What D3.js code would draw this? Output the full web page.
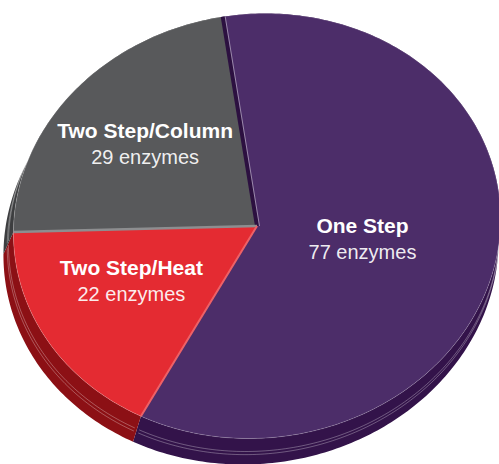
<!DOCTYPE html>
<html>
<head>
<meta charset="utf-8">
<script src="https://cdn.jsdelivr.net/npm/d3@7"></script>
<style>
  html, body { margin: 0; padding: 0; background: #fff; }
  svg { display: block; }
</style>
</head>
<body>
<svg width="499" height="464"></svg>
<script>
"use strict"

const categories = ["One Step", "Two Step/Heat", "Two Step/Column"]
const enzymeCounts = [77, 22, 29]
const countLabels = ["77 enzymes", "22 enzymes", "29 enzymes"]
const topColors = ["#4c2d69", "#e42b32", "#58595b"]
const sideColors = ["#33134a", "#8c1015", "#3d3e40"]

const CX = 257
const CY = 226
const RX = 244
const RY = 212
const TILT = -7 * Math.PI / 180
// bottom rim: pushed down and a bit to the left, slightly wider
const LOW_DX = -6
const LOW_DY = 22
const LOW_GROW_X = 4
const LOW_GROW_Y = 4
const FONT = "'Helvetica Neue', Helvetica, 'Liberation Sans', Arial, sans-serif"

function ellipsePt(t, cx, cy, rx, ry) {
    const x = rx * Math.sin(t)
    const y = -ry * Math.cos(t)
    return [
        cx + x * Math.cos(TILT) - y * Math.sin(TILT),
        cy + x * Math.sin(TILT) + y * Math.cos(TILT)
    ]
}

// f = 0 on the top rim, f = 1 on the bottom rim
function rimPt(t, f = 0) {
    return ellipsePt(
        t,
        CX + LOW_DX * f,
        CY + LOW_DY * f,
        RX + LOW_GROW_X * f,
        RY + LOW_GROW_Y * f
    )
}

function topPt(t, r) {
    return ellipsePt(t, CX, CY, RX * r, RY * r)
}

function arcPoints(t0, t1, f = 0) {
    const n = Math.max(8, Math.ceil((t1 - t0) * 60))
    return d3.range(n + 1).map((i) => rimPt(t0 + (t1 - t0) * i / n, f))
}

const pie = d3.pie()
    .sort(null)
    .startAngle(-2 * Math.PI / 180)
    .endAngle(358 * Math.PI / 180)

const slices = pie(enzymeCounts).map((d, i) => ({
    ...d,
    name: categories[i],
    label: countLabels[i],
    top: topColors[i],
    side: sideColors[i]
}))

const line = d3.line()
const svg = d3.select("svg")

// side walls first, the tops cover whatever is at the back
const sides = svg.append("g")
slices.forEach((s) => {
    const upper = arcPoints(s.startAngle, s.endAngle)
    const lower = arcPoints(s.startAngle, s.endAngle, 1).reverse()
    sides.append("path")
        .attr("d", line(upper.concat(lower)) + "Z")
        .attr("fill", s.side)
    ;[0.5, 0.62].forEach((f) => {
        sides.append("path")
            .attr("d", line(arcPoints(s.startAngle + 0.01, s.endAngle - 0.01, f)))
            .attr("fill", "none")
            .attr("stroke", "rgba(255,255,255,0.5)")
            .attr("stroke-width", 0.6)
    })
})

const tops = svg.append("g")
slices.forEach((s) => {
    const pts = [[CX, CY]].concat(arcPoints(s.startAngle, s.endAngle))
    tops.append("path")
        .attr("d", line(pts) + "Z")
        .attr("fill", s.top)
        .attr("stroke", "rgba(255,255,255,0.3)")
        .attr("stroke-width", 0.6)
})

// seams between the slices
const seams = svg.append("g")
const edge = (t) => line([[CX, CY], rimPt(t)])
const oneStart = rimPt(slices[0].startAngle)
seams.append("path")
    .attr("d", edge(slices[0].startAngle))
    .attr("stroke", "#2c1040")
    .attr("stroke-width", 4)
seams.append("path")
    .attr("d", line([[CX + 2.5, CY], [oneStart[0] + 2.5, oneStart[1]]]))
    .attr("stroke", "rgba(255,255,255,0.55)")
    .attr("stroke-width", 0.8)
seams.append("path")
    .attr("d", edge(slices[2].startAngle))
    .attr("stroke", "#8d8e90")
    .attr("stroke-width", 2.5)
seams.append("path")
    .attr("d", edge(slices[1].startAngle))
    .attr("stroke", "#ee6166")
    .attr("stroke-width", 2)

// labels: big slice sits nearer the middle
const labelFrac = [0.44, 0.57, 0.61]
const labelTurn = [0, 0.094, 0]
const labels = svg.append("g")
    .attr("font-family", FONT)
    .attr("fill", "#fff")
    .attr("text-anchor", "middle")
slices.forEach((s, i) => {
    const mid = (s.startAngle + s.endAngle) / 2 + labelTurn[i]
    const [x, y] = topPt(mid, labelFrac[i])
    labels.append("text")
        .attr("x", x)
        .attr("y", y - 6)
        .attr("font-size", "21px")
        .attr("font-weight", "bold")
        .text(s.name)
    labels.append("text")
        .attr("x", x)
        .attr("y", y + 20)
        .attr("font-size", "20px")
        .attr("fill", "rgba(255,255,255,0.92)")
        .text(s.label)
})
</script>
</body>
</html>
